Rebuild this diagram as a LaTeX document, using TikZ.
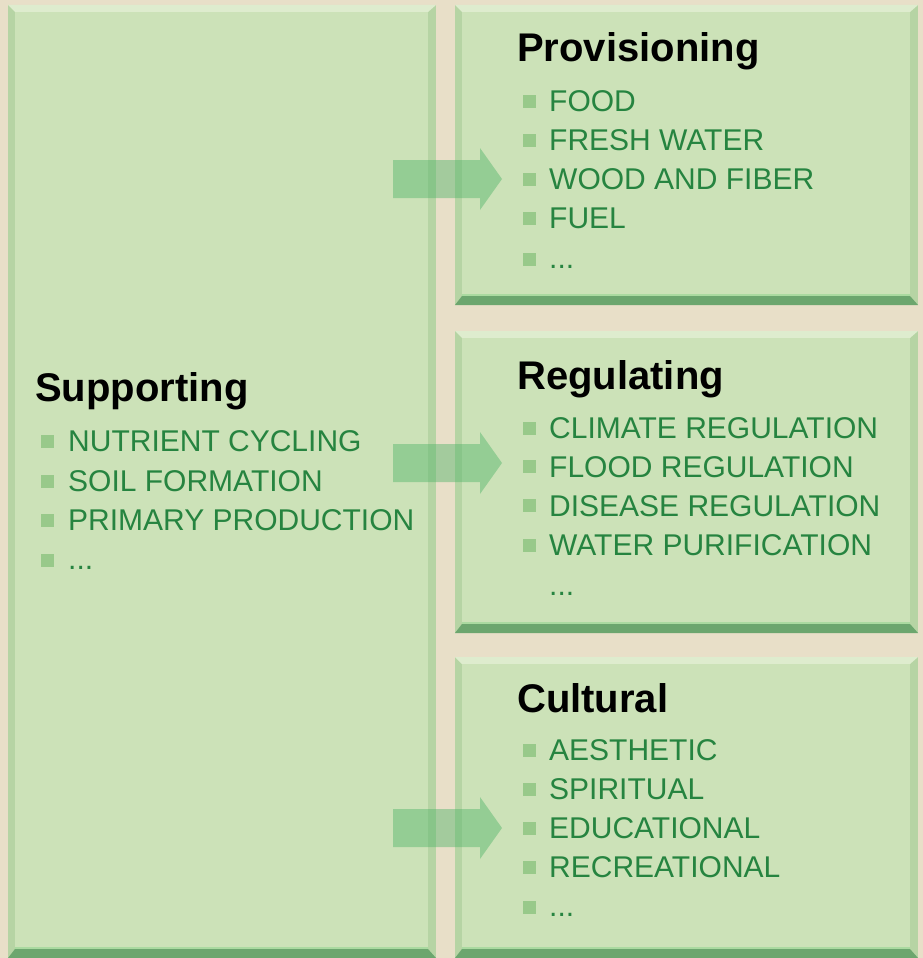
\documentclass[tikz,border=0pt]{standalone}
\usepackage{fontspec}
\setmainfont{Liberation Sans}
\definecolor{beige}{RGB}{232,223,200}
\definecolor{panelgreen}{RGB}{204,226,184}
\definecolor{topgreen}{RGB}{222,236,206}
\definecolor{sidegreen}{RGB}{182,212,164}
\definecolor{bottomgreen}{RGB}{108,166,110}
\definecolor{edgelight}{RGB}{170,218,160}
\definecolor{itemgreen}{RGB}{38,132,64}
\definecolor{bulletgreen}{RGB}{152,201,138}
\definecolor{arrowgreen}{RGB}{80,180,105}

% beveled panel: #1,#2 = top-left corner, #3,#4 = bottom-right corner
\newcommand\bevelpanel[4]{%
  \fill[sidegreen] (#1,#2) rectangle (#3,#4);
  \fill[topgreen] (#1,#2) -- (#3,#2) -- (#3-8,#2+7) -- (#1+7,#2+7) -- cycle;
  \fill[bottomgreen] (#1,#4) -- (#3,#4) -- (#3-8,#4-9) -- (#1+7,#4-9) -- cycle;
  \fill[panelgreen] (#1+7,#2+7) rectangle (#3-8,#4-9);
  \fill[edgelight] (#1+7,#4-11) rectangle (#3-8,#4-9);
}
% block arrow centred vertically on #1
\newcommand\blockarrow[1]{%
  \fill[arrowgreen, fill opacity=0.45]
    (393,#1-19) -- (480,#1-19) -- (480,#1-31) -- (502,#1) --
    (480,#1+31) -- (480,#1+19) -- (393,#1+19) -- cycle;
}

\tikzset{
  itemtext/.style={anchor=base west, inner sep=0pt, text=itemgreen,
    font=\fontsize{30}{31}\selectfont},
  titletext/.style={anchor=base west, inner sep=0pt, text=black,
    font=\fontsize{40}{42}\selectfont\bfseries},
  bulletsq/.style={fill=bulletgreen, draw=none, minimum size=13pt, inner sep=0pt},
}

\begin{document}
\begin{tikzpicture}[x=1pt,y=-1pt]
\fill[beige] (0,0) rectangle (923,958);
\useasboundingbox (0,0) rectangle (923,958);

% panels
\bevelpanel{8}{5}{436}{958}
\bevelpanel{455}{5}{918}{305}
\bevelpanel{455}{331}{918}{633}
\bevelpanel{455}{657}{918}{958}

% Supporting
\node[titletext] (sup) at (35,401) {Supporting};
\node[bulletsq] (sb1) at (47,441) {};
\node[itemtext] (s1) at (68,451.5) {NUTRIENT CYCLING};
\node[bulletsq] (sb2) at (47,481) {};
\node[itemtext] (s2) at (68,491.5) {SOIL FORMATION};
\node[bulletsq] (sb3) at (47,520) {};
\node[itemtext] (s3) at (68,530.5) {PRIMARY PRODUCTION};
\node[bulletsq] (sb4) at (47,560) {};
\node[itemtext] (s4) at (68,569) {...};

% Provisioning
\node[titletext] (prov) at (517,62) {Provisioning};
\node[bulletsq] (pb1) at (529,101) {};
\node[itemtext] (p1) at (549,111.5) {FOOD};
\node[bulletsq] (pb2) at (529,140) {};
\node[itemtext] (p2) at (549,150.5) {FRESH WATER};
\node[bulletsq] (pb3) at (529,179) {};
\node[itemtext] (p3) at (549,189.5) {WOOD AND FIBER};
\node[bulletsq] (pb4) at (529,218) {};
\node[itemtext] (p4) at (549,228.5) {FUEL};
\node[bulletsq] (pb5) at (529,259) {};
\node[itemtext] (p5) at (549,268) {...};

% Regulating
\node[titletext] (reg) at (517,389) {Regulating};
\node[bulletsq] (rb1) at (529,428) {};
\node[itemtext] (r1) at (549,438.5) {CLIMATE REGULATION};
\node[bulletsq] (rb2) at (529,466) {};
\node[itemtext] (r2) at (549,477) {FLOOD REGULATION};
\node[bulletsq] (rb3) at (529,505) {};
\node[itemtext] (r3) at (549,516) {DISEASE REGULATION};
\node[bulletsq] (rb4) at (529,545) {};
\node[itemtext] (r4) at (549,555.5) {WATER PURIFICATION};
\node[itemtext] (r5) at (549,595) {...};

% Cultural
\node[titletext] (cul) at (517,712) {Cultural};
\node[bulletsq] (cb1) at (529,750) {};
\node[itemtext] (c1) at (549,760.5) {AESTHETIC};
\node[bulletsq] (cb2) at (529,789) {};
\node[itemtext] (c2) at (549,799.5) {SPIRITUAL};
\node[bulletsq] (cb3) at (529,828) {};
\node[itemtext] (c3) at (549,838.5) {EDUCATIONAL};
\node[bulletsq] (cb4) at (529,867) {};
\node[itemtext] (c4) at (549,877.5) {RECREATIONAL};
\node[bulletsq] (cb5) at (529,907) {};
\node[itemtext] (c5) at (549,916) {...};

% arrows from Supporting to the three service groups
\blockarrow{179}
\blockarrow{463}
\blockarrow{828}
\end{tikzpicture}
\end{document}
